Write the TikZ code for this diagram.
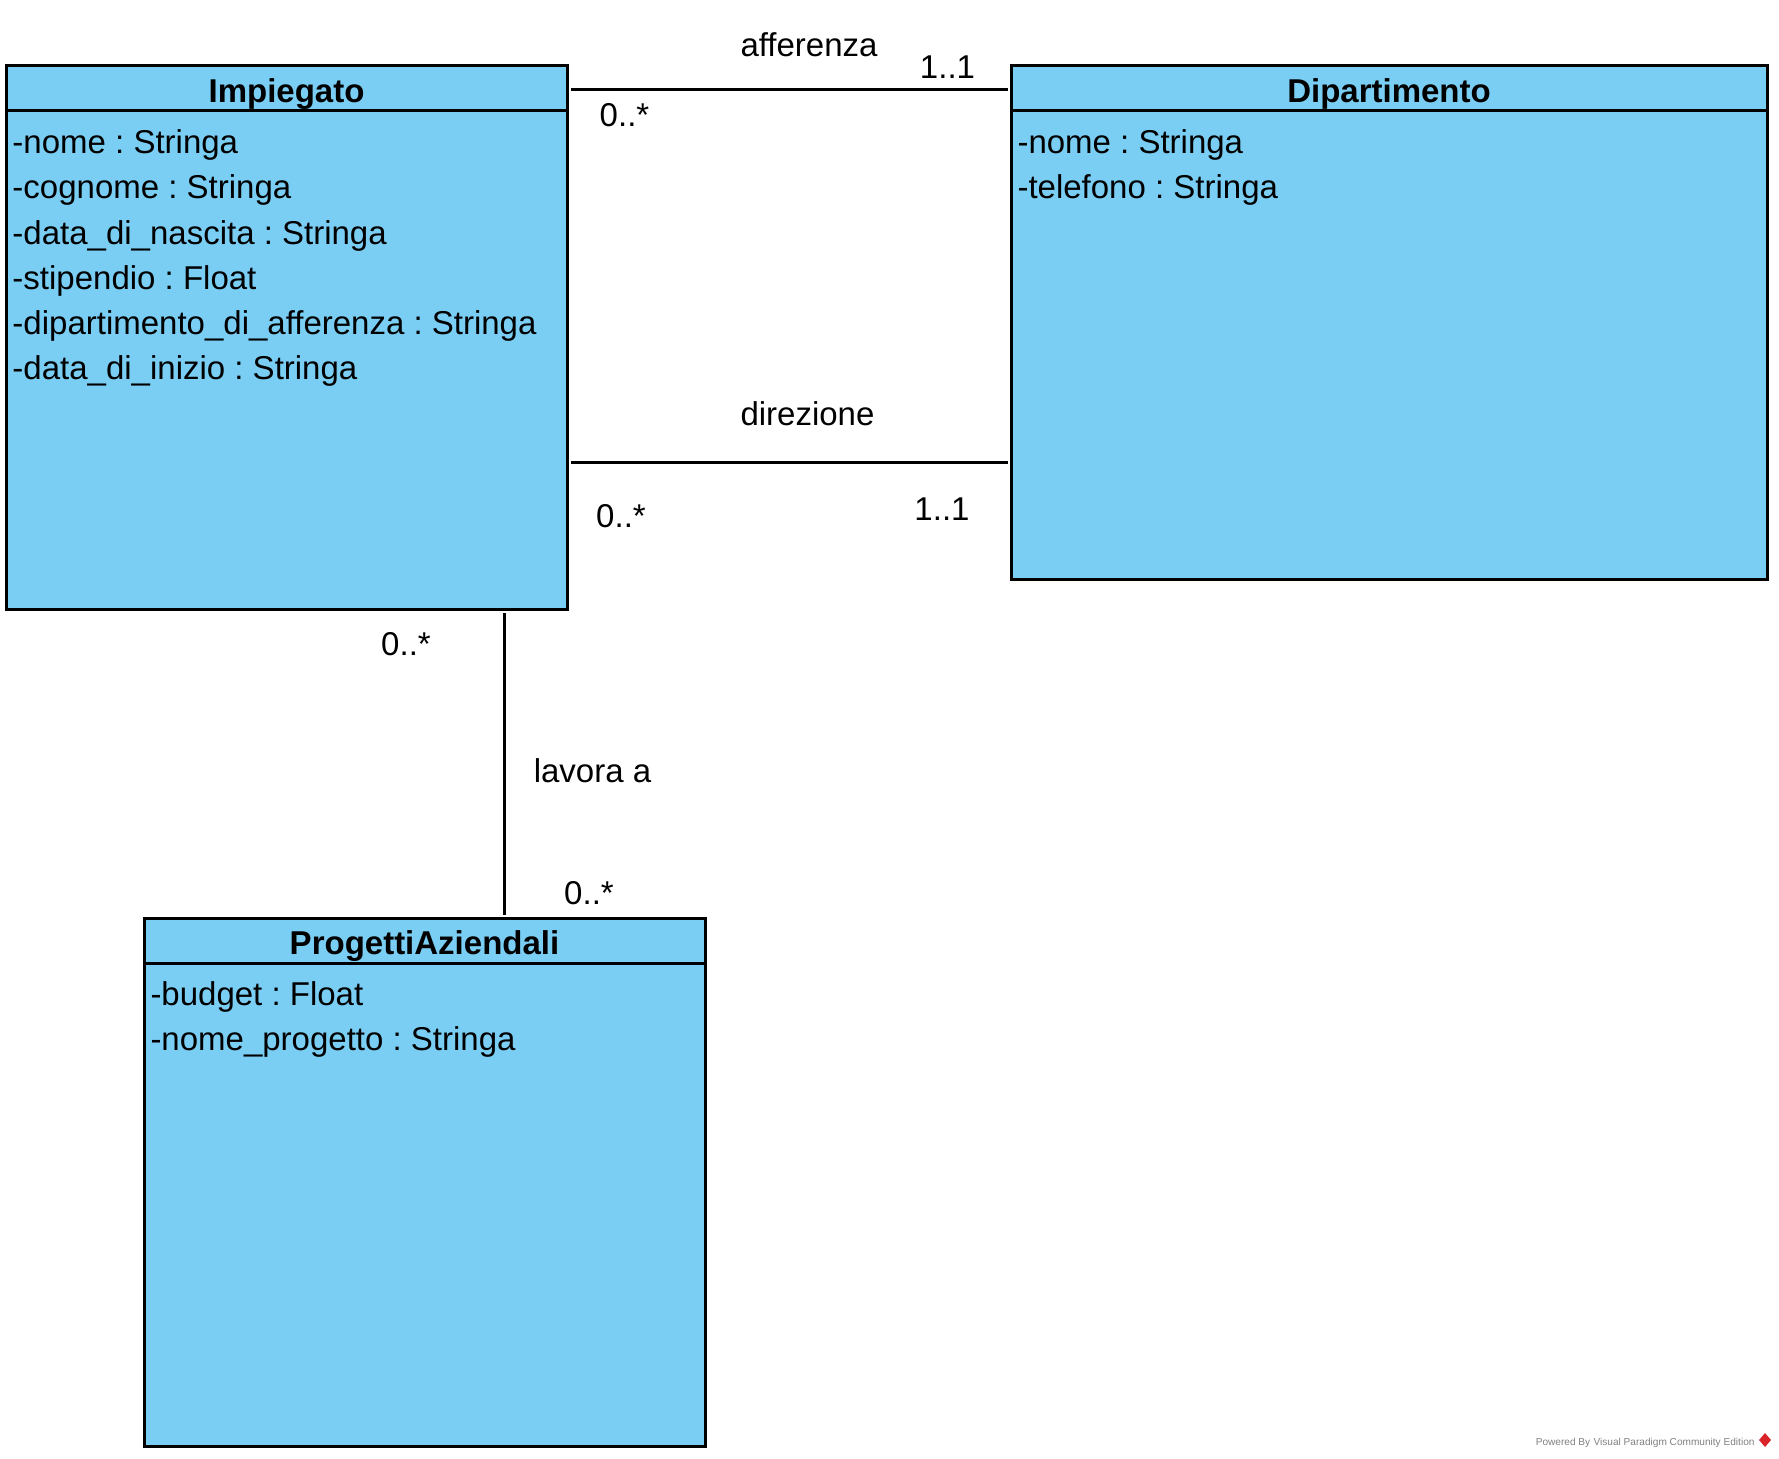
\documentclass[tikz,border=0pt]{standalone}
\usepackage{fontspec}
\setmainfont{Liberation Sans}
\usetikzlibrary{positioning,calc}
\definecolor{vpblue}{HTML}{7ACEF4}
\definecolor{vpgrey}{HTML}{808080}
\definecolor{vpred}{HTML}{D9252A}
\frenchspacing

\begin{document}
\begin{tikzpicture}[x=1pt, y=-1pt, line width=3pt, font=\fontsize{33}{45}\selectfont,
	classbox/.style={draw, fill=vpblue, rectangle, inner sep=0pt, outer sep=0pt, anchor=north west},
	classtitle/.style={anchor=base, inner sep=0pt, font=\fontsize{33}{45}\selectfont\bfseries},
	attr/.style={anchor=base west, inner sep=0pt},
	multlabel/.style={anchor=base, inner sep=0pt}]
	\useasboundingbox (0,0) rectangle (1779,1458);
	% classes
	\node [classbox, minimum width=561pt, minimum height=543pt] (imp) at (6,66) {};
	\node [classbox, minimum width=756pt, minimum height=513pt] (dip) at (1011,66) {};
	\node [classbox, minimum width=561pt, minimum height=528pt] (prog) at (144,918) {};
	\draw ([yshift=-45pt]imp.north west) -- ([yshift=-45pt]imp.north east);
	\draw ([yshift=-45pt]dip.north west) -- ([yshift=-45pt]dip.north east);
	\draw ([yshift=-45pt]prog.north west) -- ([yshift=-45pt]prog.north east);
	\node [classtitle] (imp-title) at (286.5,102.5) {Impiegato};
	\node [classtitle] (dip-title) at (1389,102.5) {Dipartimento};
	\node [classtitle] (prog-title) at (424.5,954.5) {ProgettiAziendali};
	% attributes
	\node [attr] (imp-nome) at (11,154) {-nome : Stringa};
	\node [attr] (imp-cognome) at (11,199) {-cognome : Stringa};
	\node [attr] (imp-nascita) at (11,244) {-data\_di\_nascita : Stringa};
	\node [attr] (imp-stipendio) at (11,289) {-stipendio : Float};
	\node [attr] (imp-afferenza) at (11,334) {-dipartimento\_di\_afferenza : Stringa};
	\node [attr] (imp-inizio) at (11,379) {-data\_di\_inizio : Stringa};
	\node [attr] (dip-nome) at (1016,154) {-nome : Stringa};
	\node [attr] (dip-telefono) at (1016,199) {-telefono : Stringa};
	\node [attr] (prog-budget) at (149,1005) {-budget : Float};
	\node [attr] (prog-nome) at (149,1050) {-nome\_progetto : Stringa};
	% associations
	\draw ($(imp.north east)+(4,24)$) -- ($(dip.north west)+(-3,24)$);
	\draw ($(imp.north east)+(4,396)$) -- ($(dip.north west)+(-3,396)$);
	\draw ($(imp.south west)+(498,4)$) -- ($(prog.north west)+(360,-3)$);
	\node [multlabel] (aff-name) at (809,57) {afferenza};
	\node [multlabel] (aff-dip) at (947.5,79) {1..1};
	\node [multlabel] (aff-imp) at (624.5,127) {0..*};
	\node [multlabel] (dir-name) at (807.5,425) {direzione};
	\node [multlabel] (dir-imp) at (621,527) {0..*};
	\node [multlabel] (dir-dip) at (942,520) {1..1};
	\node [multlabel] (lav-imp) at (406,655) {0..*};
	\node [multlabel] (lav-name) at (592.5,782) {lavora a};
	\node [multlabel] (lav-prog) at (589,904) {0..*};
	% footer
	\node [anchor=base east, inner sep=0pt, text=vpgrey, font=\fontsize{10.1}{12}\selectfont] (footer) at (1756,1445) {Powered By\,\,Visual Paradigm Community Edition};
	\fill [vpred] (1765,1433) -- (1771,1440) -- (1765,1447) -- (1759,1440) -- cycle;
\end{tikzpicture}
\end{document}
